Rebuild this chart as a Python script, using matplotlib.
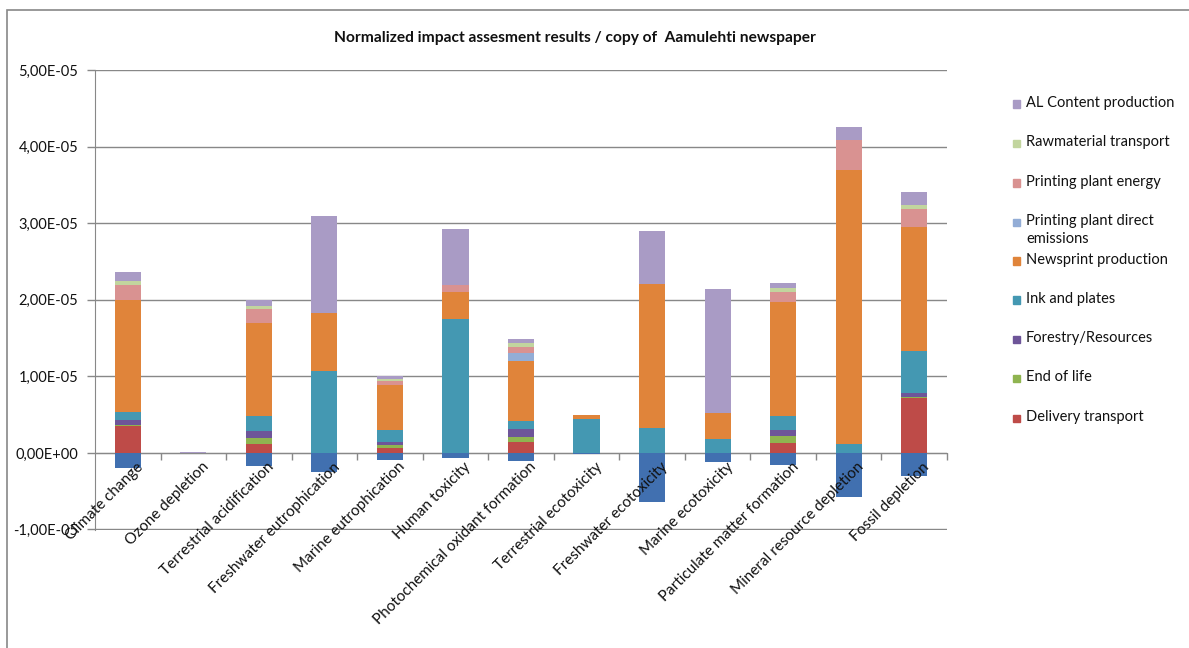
import matplotlib
matplotlib.use("Agg")
import matplotlib.pyplot as plt
import numpy as np
from matplotlib.ticker import FuncFormatter, MultipleLocator
from matplotlib.patches import Rectangle

plt.rcParams['font.family'] = ['Lato', 'DejaVu Sans']

categories = ["Climate change", "Ozone depletion", "Terrestrial acidification",
              "Freshwater eutrophication", "Marine eutrophication", "Human toxicity",
              "Photochemical oxidant formation", "Terrestrial ecotoxicity",
              "Freshwater ecotoxicity", "Marine ecotoxicity",
              "Particulate matter formation", "Mineral resource depletion",
              "Fossil depletion"]

# normalized values, in units of 1E-06
unit = 1e-6
delivery = [3.5, 0, 1.14, 0, 0.65, 0, 1.44, 0, 0, 0, 1.31, 0, 7.24]
end_of_life = [0.1, 0, 0.82, 0, 0.35, 0, 0.65, 0, 0, 0, 0.87, 0, 0.1]
forestry = [0.7, 0, 0.92, 0, 0.44, 0, 1.05, 0, 0, 0, 0.88, 0, 0.5]
ink = [1.1, 0, 1.96, 10.75, 1.53, 17.44, 1.0, 4.4, 3.27, 1.88, 1.78, 1.14, 5.45]
newsprint = [14.6, 0, 12.2, 7.5, 5.97, 3.6, 7.85, 0.5, 18.8, 3.4, 14.9, 35.8, 16.25]
direct = [0, 0, 0, 0, 0, 0, 1.08, 0, 0, 0, 0, 0, 0]
energy = [2.0, 0, 1.7, 0, 0.43, 0.85, 0.79, 0, 0, 0, 1.23, 4.0, 2.3]
rawmat = [0.5, 0, 0.45, 0, 0.35, 0, 0.44, 0, 0, 0, 0.52, 0, 0.6]
al_content = [1.1, 0.15, 0.75, 12.7, 0.35, 7.43, 0.52, 0, 6.9, 16.2, 0.65, 1.6, 1.7]
credits = [-2.0, 0, -1.7, -2.5, -0.86, -0.6, -1.05, -0.2, -6.4, -1.18, -1.6, -5.75, -3.05]

series_names = ["Delivery transport", "End of life", "Forestry/Resources", "Ink and plates",
                "Newsprint production", "Printing plant direct\nemissions",
                "Printing plant energy", "Rawmaterial transport", "AL Content production"]
series_values = [delivery, end_of_life, forestry, ink, newsprint, direct, energy, rawmat, al_content]
colors = ["#BE4B48", "#8FB450", "#6E5599", "#4498B2", "#E0843A", "#93ADD6",
          "#D99291", "#C2D59E", "#A99BC5"]
credit_color = "#4170B0"

W, H = 1189, 648
fig = plt.figure(figsize=(W / 100, H / 100), dpi=100)
ax = fig.add_axes([95 / W, 1 - 529.5 / H, (947 - 95) / W, (529.5 - 70.2) / H])

x = np.arange(len(categories))
bottom = np.zeros(len(categories))
for vals, col in zip(series_values, colors):
    v = np.array(vals) * unit
    ax.bar(x, v, 0.4, bottom=bottom, color=col, zorder=3)
    bottom += v
ax.bar(x, np.array(credits) * unit, 0.4, color=credit_color, zorder=3)

ax.set_xlim(-0.5, len(categories) - 0.5)
ax.set_ylim(-1.0005e-5, 5.0005e-5)
ax.yaxis.set_major_locator(MultipleLocator(1e-5))
ax.yaxis.set_major_formatter(FuncFormatter(lambda v, p: f"{v:.2E}".replace('.', ',')))
ax.grid(axis='y', color='#888888', linewidth=1, zorder=0)
ax.tick_params(axis='y', length=6, width=1, color='#888888', pad=6,
               labelsize=10.5, labelcolor='#111111')

# category axis crosses at zero with ticks between categories
ax.spines['bottom'].set_position(('data', 0))
ax.spines['bottom'].set_color('#888888')
ax.spines['left'].set_color('#888888')
ax.spines['top'].set_visible(False)
ax.spines['right'].set_visible(False)
ax.set_xticks(np.arange(len(categories)) + 0.5)
ax.set_xticklabels([])
ax.tick_params(axis='x', length=5, width=1, color='#888888', direction='out')
for i, name in enumerate(categories):
    ax.annotate(name, xy=(i, 0), xytext=(6, -5), textcoords='offset points',
                rotation=45, rotation_mode='anchor', ha='right', va='top',
                fontsize=11, color='#111111')

fig.text(575 / W, 1 - 38 / H, "Normalized impact assesment results / copy of  Aamulehti newspaper",
         ha='center', va='center', fontsize=11.2, fontweight='bold', color='#111111')

# legend, top entry first
slot_y = [104, 143, 183, 222, 261, 300, 339, 378, 418]
for yy, name, col in zip(slot_y, series_names[::-1], colors[::-1]):
    fig.patches.append(Rectangle((1013 / W, 1 - (yy + 3.5) / H), 7 / W, 7 / H,
                                 transform=fig.transFigure, color=col))
    fig.text(1026 / W, 1 - (yy - 8) / H, name, ha='left', va='top',
             fontsize=10.5, color='#111111', linespacing=1.35)

# chart frame
fig.patches.append(Rectangle((7 / W, -0.1), 1.2, 1 - 10 / H + 0.1,
                             transform=fig.transFigure, fill=False,
                             edgecolor='#888888', linewidth=1.2))

fig.savefig("out.png", dpi=100)
